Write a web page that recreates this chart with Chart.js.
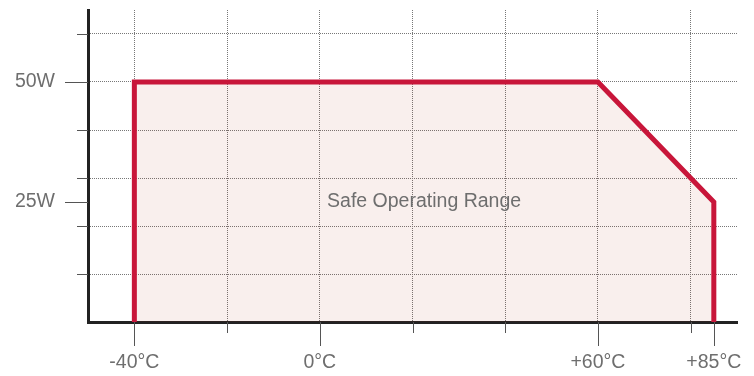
<!DOCTYPE html>
<html><head><meta charset="utf-8">
<script src="https://cdn.jsdelivr.net/npm/chart.js@4/dist/chart.umd.min.js"></script>
<style>html,body{margin:0;padding:0;background:#fff;}#wrap{width:754px;height:376px;}</style>
</head><body><div id="wrap"><canvas id="c" width="754" height="376"></canvas></div>
<script>
// Data
const temps = [-40, -40, 60, 85, 85];
const power = [0, 50, 50, 25, 0];
const xTickValues = [-40, -20, 0, 20, 40, 60, 80, 85];
const xTickLabels = { '-40': '-40°C', '0': '0°C', '60': '+60°C', '85': '+85°C' };
const yTickValues = [10, 20, 25, 30, 40, 50, 60];
const yTickLabels = { '25': '25W', '50': '50W' };
const areaLabel = 'Safe Operating Range';
const areaLabelPos = [22.5, 25];

const FONT = "'Liberation Sans', Arial, sans-serif";
const FSIZE = 19.5;
const points = temps.map((t, i) => ({ x: t, y: power[i] }));

const tickPlugin = {
  id: 'ticksAndLabel',
  afterDatasetsDraw(chart) {
    const ctx = chart.ctx;
    const xs = chart.scales.x, ys = chart.scales.y;
    ctx.save();
    ctx.strokeStyle = '#555';
    ctx.lineWidth = 1;
    xTickValues.forEach(v => {
      const px = Math.round(xs.getPixelForValue(v)) + 0.5;
      const len = (String(v) in xTickLabels) ? 24 : 11;
      ctx.beginPath(); ctx.moveTo(px, xs.top); ctx.lineTo(px, xs.top + len); ctx.stroke();
    });
    yTickValues.forEach(v => {
      const py = Math.round(ys.getPixelForValue(v)) + 0.5;
      const len = (String(v) in yTickLabels) ? 23 : 11;
      ctx.beginPath(); ctx.moveTo(ys.right, py); ctx.lineTo(ys.right - len, py); ctx.stroke();
    });
    ctx.fillStyle = '#6e6e6e';
    ctx.font = FSIZE + 'px ' + FONT;
    ctx.textAlign = 'center';
    ctx.textBaseline = 'middle';
    ctx.fillText(areaLabel, xs.getPixelForValue(areaLabelPos[0]), ys.getPixelForValue(areaLabelPos[1]));
    ctx.restore();
  }
};

new Chart(document.getElementById('c'), {
  type: 'scatter',
  data: {
    datasets: [{
      data: points,
      showLine: true,
      borderColor: '#c8163a',
      borderWidth: 5,
      borderJoinStyle: 'miter',
      backgroundColor: 'rgba(180,55,30,0.08)',
      fill: 'origin',
      pointRadius: 0,
      tension: 0
    }]
  },
  options: {
    responsive: false,
    animation: false,
    layout: { padding: { top: 10, right: 17, left: 0, bottom: 0 } },
    plugins: { legend: { display: false }, tooltip: { enabled: false } },
    scales: {
      x: {
        type: 'linear', min: -50, max: 90,
        afterBuildTicks: s => { s.ticks = xTickValues.map(v => ({ value: v })); },
        afterFit: s => { s.height = 54; s.paddingLeft = 0; s.paddingRight = 0; s.paddingTop = 0; s.paddingBottom = 0; },
        ticks: {
          autoSkip: false, maxRotation: 0, minRotation: 0, padding: 29, color: '#6e6e6e',
          font: { family: FONT, size: FSIZE },
          callback: v => xTickLabels[String(v)] || ''
        },
        grid: {
          drawTicks: false,
          color: ctx => (ctx.tick && ctx.tick.value === 85) ? 'rgba(0,0,0,0)' : '#777',
          lineWidth: 1
        },
        border: { display: true, color: '#222', width: 3, dash: [1, 1] }
      },
      y: {
        type: 'linear', min: 0, max: 65,
        afterBuildTicks: s => { s.ticks = yTickValues.map(v => ({ value: v })); },
        afterFit: s => { s.width = 88; s.paddingLeft = 0; s.paddingRight = 0; s.paddingTop = 0; s.paddingBottom = 0; },
        ticks: {
          autoSkip: false, padding: 33, color: '#6e6e6e',
          font: { family: FONT, size: FSIZE },
          callback: v => yTickLabels[String(v)] || ''
        },
        grid: {
          drawTicks: false,
          color: ctx => (ctx.tick && ctx.tick.value === 25) ? 'rgba(0,0,0,0)' : '#777',
          lineWidth: 1
        },
        border: { display: true, color: '#222', width: 3, dash: [1, 1] }
      }
    }
  },
  plugins: [tickPlugin]
});
</script></body></html>
